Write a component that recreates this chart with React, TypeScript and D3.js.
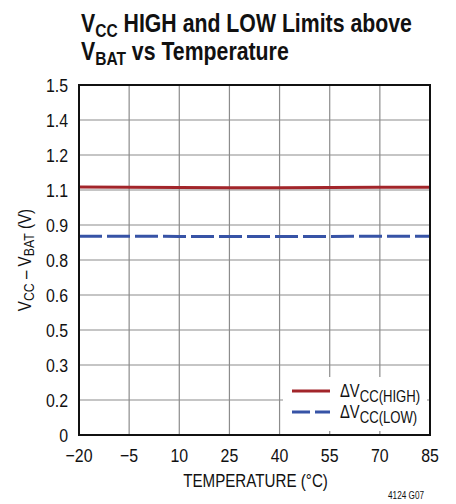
import React, { useEffect, useRef } from 'react';
import * as d3 from 'd3';

// temperatures (°C) and measured deltas (V)
const temps = [-20, -5, 10, 25, 40, 55, 70, 85];
const vccHigh = [1.063, 1.062, 1.061, 1.06, 1.06, 1.061, 1.062, 1.062];
const vccLow = [0.852, 0.852, 0.851, 0.851, 0.851, 0.851, 0.852, 0.852];

const xTicks = [-20, -5, 10, 25, 40, 55, 70, 85];
const yTicks = [0, 0.15, 0.3, 0.45, 0.6, 0.75, 0.9, 1.05, 1.2, 1.35, 1.5];
const yTickLabels = ['0', '0.2', '0.3', '0.5', '0.6', '0.8', '0.9', '1.1', '1.2', '1.4', '1.5'];

const FONT = "'Liberation Sans', Arial, sans-serif";
// the original type is a condensed face, so squeeze the installed one
const SQ_NUM = 0.86;
const SQ_TXT = 0.82;

const App = () => {
  const svgRef = useRef<SVGSVGElement>(null);

  useEffect(() => {
    const svgWidth = 456;
    const svgHeight = 504;
    const plot = { left: 79, right: 430, top: 85, bottom: 435 };

    const svg = d3.select(svgRef.current)
      .attr('width', svgWidth)
      .attr('height', svgHeight)
      .style('background', '#fff');

    svg.selectAll('*').remove();

    const x = d3.scaleLinear().domain([-20, 85]).range([plot.left, plot.right]);
    const y = d3.scaleLinear().domain([0, 1.5]).range([plot.bottom, plot.top]);

    // Title, squeezed so line 1 fits its original width
    const titleLines = [
      { main: 'V', sub: 'CC', rest: ' HIGH and LOW Limits above', yy: 32 },
      { main: 'V', sub: 'BAT', rest: ' vs Temperature', yy: 60 },
    ];
    const titleNodes = titleLines.map(l => {
      const t = svg.append('text')
        .attr('font-family', FONT)
        .attr('font-weight', 'bold')
        .attr('font-size', 26)
        .attr('fill', '#111');
      t.append('tspan').text(l.main);
      t.append('tspan').attr('font-size', 19).attr('dy', 5).text(l.sub);
      t.append('tspan').attr('dy', -5).text(l.rest);
      return t;
    });
    const w1 = (titleNodes[0].node() as SVGTextElement).getBBox().width || 1;
    const sx = 331 / w1;
    titleNodes.forEach((t, i) => {
      t.attr('transform', `translate(81, ${titleLines[i].yy}) scale(${sx}, 1)`);
    });

    // Grid
    const grid = svg.append('g').attr('stroke', '#8c8c8c').attr('stroke-width', 1.2);
    grid.selectAll('line.v')
      .data(xTicks.slice(1, -1))
      .join('line')
      .attr('x1', d => x(d)).attr('x2', d => x(d))
      .attr('y1', plot.top).attr('y2', plot.bottom);
    grid.selectAll('line.h')
      .data(yTicks.slice(1, -1))
      .join('line')
      .attr('x1', plot.left).attr('x2', plot.right)
      .attr('y1', d => y(d)).attr('y2', d => y(d));

    // Legend backdrop covers the grid
    svg.append('rect')
      .attr('x', 283).attr('y', 377)
      .attr('width', 144).attr('height', 54)
      .attr('fill', '#fff');

    // Lines
    const line = d3.line<number>()
      .x((d, i) => x(temps[i]))
      .y(d => y(d));

    svg.append('path')
      .datum(vccHigh)
      .attr('fill', 'none')
      .attr('stroke', '#a2252a')
      .attr('stroke-width', 3)
      .attr('d', line);

    svg.append('path')
      .datum(vccLow)
      .attr('fill', 'none')
      .attr('stroke', '#3753a6')
      .attr('stroke-width', 3)
      .attr('stroke-dasharray', '23,5')
      .attr('d', line);

    // Frame
    svg.append('rect')
      .attr('x', plot.left).attr('y', plot.top)
      .attr('width', plot.right - plot.left)
      .attr('height', plot.bottom - plot.top)
      .attr('fill', 'none')
      .attr('stroke', '#111')
      .attr('stroke-width', 2);

    // Tick labels
    svg.append('g')
      .selectAll('text')
      .data(yTicks)
      .join('text')
      .attr('transform', d => `translate(${plot.left - 11}, ${y(d)}) scale(${SQ_NUM}, 1)`)
      .attr('dy', '0.36em')
      .attr('text-anchor', 'end')
      .attr('font-family', FONT)
      .attr('font-size', 18.5)
      .attr('fill', '#111')
      .text((d, i) => yTickLabels[i]);

    svg.append('g')
      .selectAll('text')
      .data(xTicks)
      .join('text')
      .attr('transform', d => `translate(${x(d)}, ${plot.bottom + 27}) scale(${SQ_NUM}, 1)`)
      .attr('text-anchor', 'middle')
      .attr('font-family', FONT)
      .attr('font-size', 18.5)
      .attr('fill', '#111')
      .text(d => (d < 0 ? '\u2212' + Math.abs(d) : String(d)));

    // Axis titles
    svg.append('text')
      .attr('transform', `translate(${(plot.left + plot.right) / 2 + 1}, ${plot.bottom + 52}) scale(${SQ_TXT}, 1)`)
      .attr('text-anchor', 'middle')
      .attr('font-family', FONT)
      .attr('font-size', 18.5)
      .attr('fill', '#111')
      .text('TEMPERATURE (°C)');

    const yl = svg.append('text')
      .attr('transform', `translate(31, 260) rotate(-90) scale(${SQ_TXT}, 1)`)
      .attr('text-anchor', 'middle')
      .attr('font-family', FONT)
      .attr('font-size', 18.5)
      .attr('fill', '#111');
    yl.append('tspan').text('V');
    yl.append('tspan').attr('font-size', 15).attr('dy', 3).text('CC');
    yl.append('tspan').attr('dy', -3).text(' \u2013 V');
    yl.append('tspan').attr('font-size', 15).attr('dy', 3).text('BAT');
    yl.append('tspan').attr('dy', -3).text(' (V)');

    // Legend
    const legend = [
      { label: 'CC(HIGH)', color: '#a2252a', dash: null, yy: 391 },
      { label: 'CC(LOW)', color: '#3753a6', dash: '18,5', yy: 412 },
    ];
    const lg = svg.append('g');
    legend.forEach(item => {
      lg.append('line')
        .attr('x1', 292).attr('x2', 330)
        .attr('y1', item.yy).attr('y2', item.yy)
        .attr('stroke', item.color)
        .attr('stroke-width', 3)
        .attr('stroke-dasharray', item.dash);
      const t = lg.append('text')
        .attr('transform', `translate(340, ${item.yy + 6}) scale(${SQ_TXT}, 1)`)
        .attr('font-family', FONT)
        .attr('font-size', 18)
        .attr('fill', '#111');
      t.append('tspan').text('\u0394V');
      t.append('tspan').attr('font-size', 16).attr('dy', 5).text(item.label);
    });

    // Figure code
    svg.append('text')
      .attr('transform', `translate(424, 499) scale(0.78, 1)`)
      .attr('text-anchor', 'end')
      .attr('font-family', FONT)
      .attr('font-size', 10.5)
      .attr('fill', '#111')
      .text('4124 G07');
  }, []);

  return <svg ref={svgRef} style={{ display: 'block', position: 'absolute', left: 0, top: 0 }}></svg>;
};

export default App;
